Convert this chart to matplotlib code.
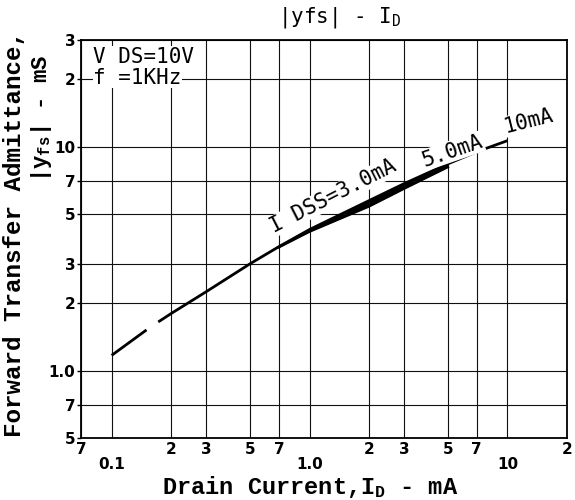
import numpy as np
import matplotlib
matplotlib.use("Agg")
import matplotlib.pyplot as plt
from matplotlib.ticker import FixedLocator, FixedFormatter

# data (log-log, mA vs mS)
id_main = [0.1, 0.15, 0.16, 0.172, 0.2, 0.3, 0.5, 0.7, 1.0, 2.0, 3.0, 5.0, 7.0, 10.0]
yfs_main = [1.17, 1.52, np.nan, 1.65, 1.80, 2.25, 3.0, 3.58, 4.27, 5.75, 6.84, 8.39, 9.5, 10.65]

# IDSS=3.0mA / 5.0mA curves run just under the 10mA curve -> dark wedge
id_band = [0.7, 1.0, 2.0, 3.0, 5.0]
yfs_band_hi = [3.58, 4.27, 5.75, 6.84, 8.39]
yfs_band_lo = [3.56, 4.18, 5.42, 6.5, 8.12]

x_major = [0.1, 1.0, 10.0]
x_major_lbl = ["0.1", "1.0", "10"]
x_minor = [0.07, 0.2, 0.3, 0.5, 0.7, 2, 3, 5, 7, 20]
x_minor_lbl = ["7", "2", "3", "5", "7", "2", "3", "5", "7", "2"]

y_major = [1.0, 10.0]
y_major_lbl = ["1.0", "10"]
y_minor = [0.5, 0.7, 2, 3, 5, 7, 20, 30]
y_minor_lbl = ["5", "7", "2", "3", "5", "7", "2", "3"]

plt.rcParams['mathtext.default'] = 'regular'

fig = plt.figure(figsize=(5.75, 5), dpi=100)
ax = fig.add_axes([81/575, 62/500, 486/575, 398/500])
ax.set_xscale('log')
ax.set_yscale('log')
ax.set_xlim(0.07, 20)
ax.set_ylim(0.5, 30)

ax.xaxis.set_major_locator(FixedLocator(x_major))
ax.xaxis.set_major_formatter(FixedFormatter(x_major_lbl))
ax.xaxis.set_minor_locator(FixedLocator(x_minor))
ax.xaxis.set_minor_formatter(FixedFormatter(x_minor_lbl))
ax.yaxis.set_major_locator(FixedLocator(y_major))
ax.yaxis.set_major_formatter(FixedFormatter(y_major_lbl))
ax.yaxis.set_minor_locator(FixedLocator(y_minor))
ax.yaxis.set_minor_formatter(FixedFormatter(y_minor_lbl))

ax.tick_params(axis='x', which='major', length=0, pad=14, labelsize=11)
ax.tick_params(axis='x', which='minor', length=0, pad=3, labelsize=11)
ax.tick_params(axis='y', which='both', length=3, width=1, pad=1, labelsize=11)
for lbl in ax.get_xticklabels(which='both') + ax.get_yticklabels(which='both'):
    lbl.set_fontweight('bold')

ax.grid(True, which='both', color='#111111', linewidth=0.8)
for s in ax.spines.values():
    s.set_linewidth(1.3)

ax.plot(id_main, yfs_main, color='black', linewidth=2.0, solid_capstyle='butt')
ax.fill_between(id_band, yfs_band_lo, yfs_band_hi, color='black', linewidth=0)
ax.plot(id_band, yfs_band_lo, color='black', linewidth=1.8)

mono = 'DejaVu Sans Mono'
box = dict(facecolor='white', edgecolor='none', pad=0.5)
ax.text(0.025, 0.957, "V DS=10V", transform=ax.transAxes, family=mono,
        fontsize=15, va='center', ha='left', bbox=box)
ax.text(0.025, 0.905, "f =1KHz", transform=ax.transAxes, family=mono,
        fontsize=15, va='center', ha='left', bbox=box)

ax.text(1.31, 6.0, "I DSS=3.0mA", family=mono, fontsize=15, rotation=27,
        rotation_mode='anchor', ha='center', va='center', bbox=box)
ax.text(5.28, 9.6, "5.0mA", family=mono, fontsize=15, rotation=19,
        rotation_mode='anchor', ha='center', va='center', bbox=box)
ax.text(12.8, 13.0, "10mA", family=mono, fontsize=15, rotation=14,
        rotation_mode='anchor', ha='center', va='center', bbox=box)

fig.text(340/575, 1 - 17/500, "|yfs| - I$_D$", family=mono, fontsize=15,
         ha='center', va='center')

lab = 'Liberation Mono'
fig.text(310/575, 1 - 487/500, "Drain Current,I$_D$ - mA", family=lab,
         fontsize=17, fontweight='bold', ha='center', va='center')
fig.text(15/575, 1 - 234/500, "Forward Transfer Admittance,", family=lab,
         fontsize=17.5, fontweight='bold', rotation=90, ha='center', va='center')
fig.text(41/575, 1 - 118/500, "|y$_{fs}$| - mS", family=lab,
         fontsize=16, fontweight='bold', rotation=90, ha='center', va='center')

fig.savefig("out.png", dpi=100)
